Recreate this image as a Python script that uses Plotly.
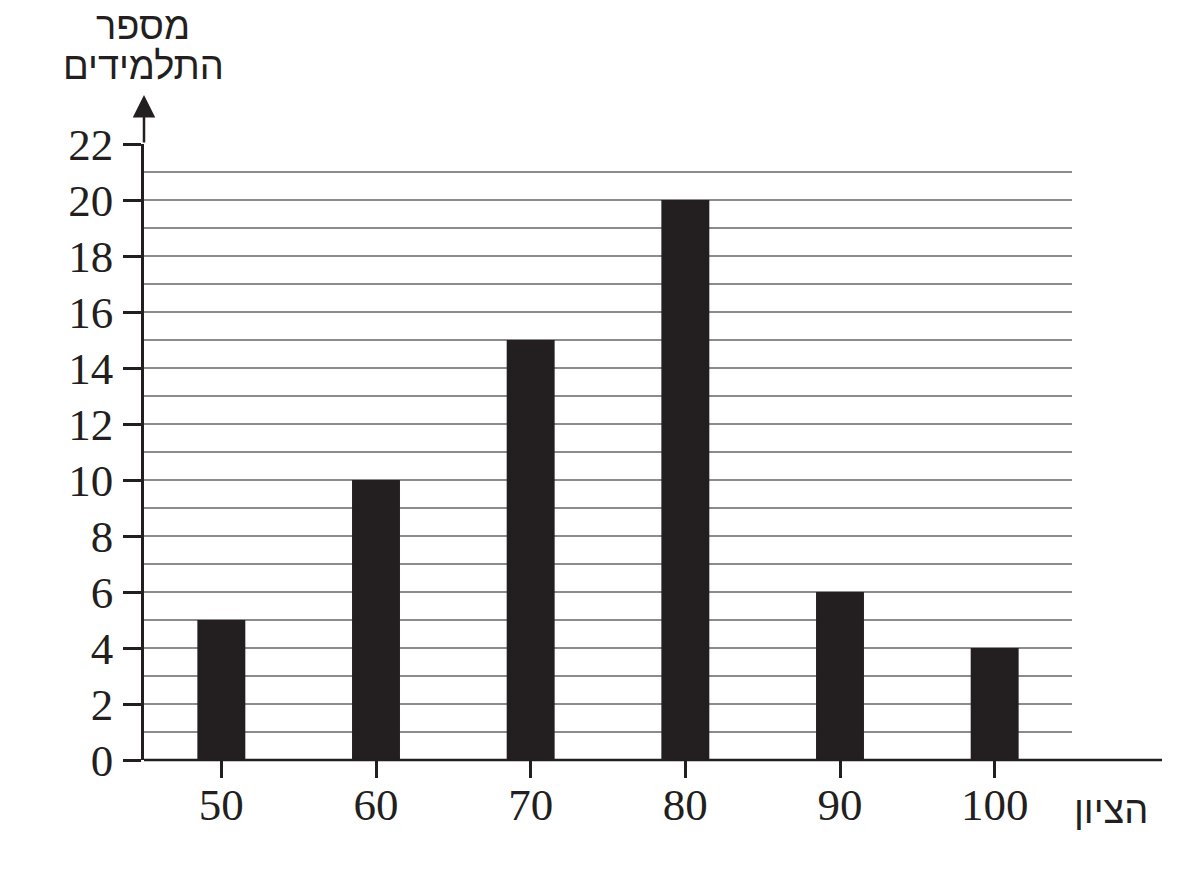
import plotly.graph_objects as go

# data
grades = [50, 60, 70, 80, 90, 100]
students = [5, 10, 15, 20, 6, 4]
y_ticks = list(range(0, 23, 2))

INK = '#231f20'
GRID = '#8c8c8c'
NUM_FONT = 'Liberation Serif'
HEB_FONT = 'Liberation Sans'

W, H = 1179, 890
OFF = 8  # browser page margin shifts everything by this much
L, T = 144 - OFF, 144 - OFF
plot_w, plot_h = 928, 616
R = W - L - plot_w
B = H - T - plot_h

def px_to_paper_y(py):
    return (T + OFF + plot_h - py) / plot_h

def px_to_paper_x(px):
    return (px - L - OFF) / plot_w

fig = go.Figure()
fig.add_trace(go.Bar(
    x=grades, y=students, width=3.1,
    marker=dict(color=INK, line=dict(width=0)),
    hoverinfo='skip',
))

fig.update_layout(
    width=W, height=H,
    margin=dict(l=L, r=R, t=T, b=B, pad=0),
    paper_bgcolor='white', plot_bgcolor='white',
    showlegend=False,
    font=dict(family=NUM_FONT, size=45, color=INK),
)

fig.update_xaxes(
    range=[45, 105],
    tickmode='array', tickvals=grades, ticktext=[str(g) for g in grades],
    ticks='outside', ticklen=17, tickwidth=2.5, tickcolor=INK,
    showgrid=False, zeroline=False, showline=False,
    tickfont=dict(family=NUM_FONT, size=45, color=INK),
    ticklabelstandoff=-12,
)

fig.update_yaxes(
    range=[0, 22],
    tickmode='array', tickvals=y_ticks,
    ticks='outside', ticklen=18, tickwidth=2.5, tickcolor=INK,
    showgrid=True, gridcolor=GRID, gridwidth=1.6,
    minor=dict(dtick=1, tick0=0, showgrid=True, gridcolor=GRID, gridwidth=1.6, ticks=''),
    zeroline=False,
    showline=True, linecolor=INK, linewidth=2.5,
    tickfont=dict(family=NUM_FONT, size=45, color=INK),
    ticklabelstandoff=1,
)

# x axis line, running past the last gridline
fig.add_shape(type='line', xref='paper', yref='paper',
              x0=0, x1=px_to_paper_x(1162), y0=0, y1=0,
              line=dict(color=INK, width=2.5), layer='above')

# y axis extension with arrow head
fig.add_annotation(
    xref='paper', yref='paper', x=0, y=px_to_paper_y(95),
    ax=0, ay=49, axref='pixel', ayref='pixel',
    text='', showarrow=True, arrowhead=2, arrowsize=1.8,
    arrowwidth=2.5, arrowcolor=INK,
)

# axis titles
heb = dict(family=HEB_FONT, size=38, color=INK)
for txt, px, py in [('מספר', 143, 26), ('התלמידים', 143, 66), ('הציון', 1111, 810)]:
    fig.add_annotation(xref='paper', yref='paper', x=px_to_paper_x(px), y=px_to_paper_y(py),
                       text=txt, showarrow=False, xanchor='center', yanchor='middle',
                       borderpad=0, font=heb)

fig.write_html("out.html")
